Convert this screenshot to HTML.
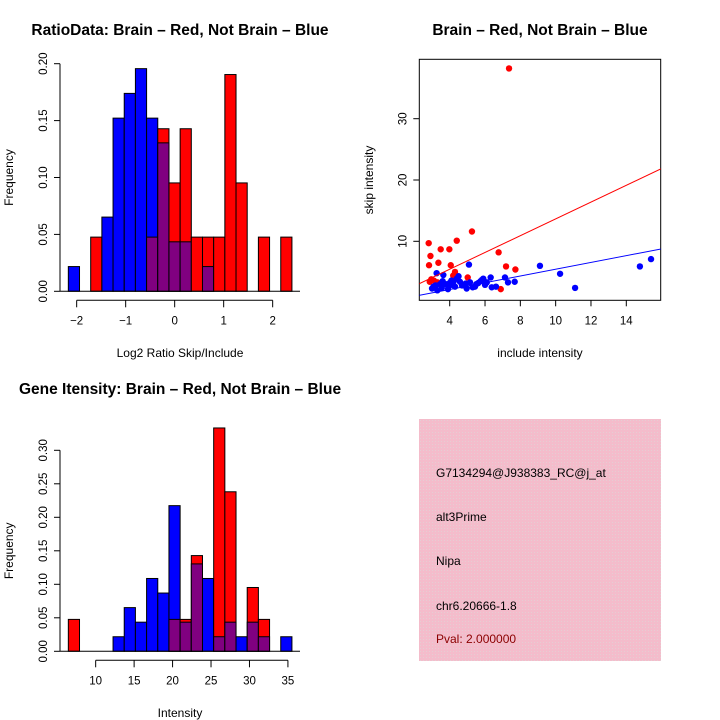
<!DOCTYPE html>
<html><head><meta charset="utf-8"><style>
body{margin:0;background:#fff}
svg{display:block;font-family:"Liberation Sans",sans-serif}
</style></head><body>
<svg id="svg" width="720" height="720" viewBox="0 0 720 720" xmlns="http://www.w3.org/2000/svg">
<g id="p1"></g>
<g id="p2"></g>
<g id="p3"></g>
<g id="p4">
<defs><pattern id="hatch" width="3" height="3" patternUnits="userSpaceOnUse"><rect width="3" height="3" fill="#f4bccb"/><rect width="1" height="1" fill="#e6cdd3"/></pattern></defs>
<rect x="419" y="419" width="242" height="242" fill="url(#hatch)"/>
<text x="436" y="477" font-size="12">G7134294@J938383_RC@j_at</text>
<text x="436" y="521" font-size="12">alt3Prime</text>
<text x="436" y="565" font-size="12">Nipa</text>
<text x="436" y="610" font-size="12">chr6.20666-1.8</text>
<text x="436" y="643" font-size="12" fill="#8b0000">Pval: 2.000000</text>
</g>
</svg>
<script>
// ---- Histogram 1 data (counts per bin) ----
const h1Red = [0,0,1,0,0,0,0,1,3,2,3,1,1,1,4,2,0,1,0,1];
const h1Blue = [1,0,0,3,7,8,9,7,6,2,2,0,1,0,0,0,0,0,0,0];
const h1RedN = 21, h1BlueN = 46;
const h1XTicks = [-2,-1,0,1,2];
const h1YTicks = ["0.00","0.05","0.10","0.15","0.20"];
// ---- Histogram 2 data ----
const h2Red = [1,0,0,0,0,0,0,0,0,1,1,3,0,7,5,0,2,1,0,0];
const h2Blue = [0,0,0,0,1,3,2,5,4,10,2,6,5,1,2,1,2,1,0,1];
const h2RedN = 21, h2BlueN = 46;
const h2XTicks = [10,15,20,25,30,35];
const h2YTicks = ["0.00","0.05","0.10","0.15","0.20","0.25","0.30"];
// ---- Scatter data ----
const redX = [7.36,2.81,4.4,5.26,3.49,3.98,2.91,6.77,2.83,3.36,4.06,7.19,7.72,4.3,5.02,2.96,2.87,6.89,3.1,4.2,3.3];
const redY = [38.2,9.7,10.1,11.6,8.7,8.7,7.6,8.2,6.1,6.5,6.1,5.9,5.4,5.0,4.1,3.8,3.4,2.2,3.6,4.4,3.3];
const blueX = [5.09,9.11,10.25,11.1,14.77,15.4,7.68,7.13,7.3,3.26,3.64,4.5,6.32,5.83,3.08,3.3,3.9,4.0,4.3,4.77,4.96,5.43,5.62,6.0,6.38,6.62,4.58,3.45,3.79,4.21,5.15,3.0,3.2,3.6,4.1,4.4,4.9,5.3,5.9,6.1,4.7,3.95,5.75,4.15,3.55,5.5];
const blueY = [6.2,6.0,4.7,2.4,5.9,7.1,3.4,4.1,3.3,4.8,4.5,4.3,4.1,3.7,2.6,2.0,2.2,3.2,2.6,2.9,2.3,2.6,3.2,2.9,2.5,2.6,3.4,3.0,3.0,3.4,3.3,2.3,2.8,3.5,3.6,3.9,3.1,2.5,3.9,3.3,2.8,2.7,3.5,2.9,2.4,3.0];
const redFit = [-0.04,1.37];
const blueFit = [-0.07,0.552];
const scXTicks = [4,6,8,10,12,14];
const scYTicks = [10,20,30];

const NS="http://www.w3.org/2000/svg";
function mk(parent,tag,attrs){const e=document.createElementNS(NS,tag);for(const k in attrs)e.setAttribute(k,attrs[k]);parent.appendChild(e);return e;}

function hist(g,red,blue,rN,bN,x0px,binPx,y0,yPerUnit,xTicks,xTickPx,yTicks,yStep,axX,xlab,title,titleY,xlabY){
  for(let i=0;i<red.length;i++){
    const r=red[i]/rN,b=blue[i]/bN;
    const x=x0px+i*binPx;
    const top=Math.max(r,b),mn=Math.min(r,b);
    if(top>0){
      const bar=mk(g,'rect',{x:x,y:y0-top*yPerUnit,width:binPx,height:top*yPerUnit,fill:r>=b?'#ff0000':'#0000ff',stroke:'#000','stroke-width':1});
      
      
    }
    if(mn>0){
      const ov=mk(g,'rect',{x:x,y:y0-mn*yPerUnit,width:binPx,height:mn*yPerUnit,fill:'#800080',stroke:'#000','stroke-width':1});
      
      
    }
  }
  const base=mk(g,'line',{x1:60,x2:300,y1:y0,y2:y0,stroke:'#000'});
  
  
  const yTop=y0-(yTicks.length-1)*yStep*yPerUnit;
  mk(g,'line',{x1:axX,x2:axX,y1:y0,y2:yTop,stroke:'#000'});
  yTicks.forEach((t,i)=>{const y=y0-i*yStep*yPerUnit;mk(g,'line',{x1:axX-6,x2:axX,y1:y,y2:y,stroke:'#000'});
    const tx=mk(g,'text',{x:0,y:0,transform:`translate(${axX-13},${y}) rotate(-90)`,'text-anchor':'middle','font-size':11.5});tx.textContent=t;
    
    });
  const xa=y0+9;
  const xs=xTicks.map(xTickPx);
  mk(g,'line',{x1:xs[0],x2:xs[xs.length-1],y1:xa,y2:xa,stroke:'#000'});
  xTicks.forEach((t,i)=>{mk(g,'line',{x1:xs[i],x2:xs[i],y1:xa,y2:xa+7,stroke:'#000'});
    const tx=mk(g,'text',{x:xs[i],y:xa+24,'text-anchor':'middle','font-size':11.5});tx.textContent=t<0?'\u2212'+(-t):t;
    
    });
  const xl=mk(g,'text',{x:180,y:xlabY,'text-anchor':'middle','font-size':12});xl.textContent=xlab;
  
  
  const yl=mk(g,'text',{x:0,y:0,transform:`translate(13,${(y0+yTop)/2}) rotate(-90)`,'text-anchor':'middle','font-size':12});yl.textContent='Frequency';
  
  
  const tt=mk(g,'text',{x:180,y:titleY,'text-anchor':'middle','font-size':15.5,'font-weight':'bold'});tt.textContent=title;
  
  
}
const p1=document.getElementById('p1');
hist(p1,h1Red,h1Blue,h1RedN,h1BlueN,68.33,11.18,291.3,1138,h1XTicks,v=>76.67+(v+2)*49,h1YTicks,0.05,60,'Log2 Ratio Skip/Include','RatioData: Brain \u2013 Red, Not Brain \u2013 Blue',35,357);
const p3=document.getElementById('p3');
hist(p3,h2Red,h2Blue,h2RedN,h2BlueN,68.33,11.18,651.3,670,h2XTicks,v=>95.67+(v-10)*7.69,h2YTicks,0.05,60,'Intensity','Gene Itensity: Brain \u2013 Red, Not Brain \u2013 Blue',394,717);

const p2=document.getElementById('p2');
const L=419.3,R=660.7,T=59.3,B=300.3;
const sx=v=>449.7+(v-4)*17.66, sy=v=>241.3-(v-10)*6.13;
const box=mk(p2,'rect',{x:L,y:T,width:R-L,height:B-T,fill:'none',stroke:'#000'});


const cp=mk(p2,'clipPath',{id:'clip'});mk(cp,'rect',{x:L,y:T,width:R-L,height:B-T});
const inner=mk(p2,'g',{'clip-path':'url(#clip)'});
redX.forEach((x,i)=>{const c=mk(inner,'circle',{cx:sx(x),cy:sy(redY[i]),r:3.2,fill:'#ff0000'});
  
  });
blueX.forEach((x,i)=>{const c=mk(inner,'circle',{cx:sx(x),cy:sy(blueY[i]),r:3.2,fill:'#0000ff'});
  
  });
const xl0=2.2,xl1=16.1;
const rl=mk(inner,'line',{x1:sx(xl0),y1:sy(redFit[0]+redFit[1]*xl0),x2:sx(xl1),y2:sy(redFit[0]+redFit[1]*xl1),stroke:'#ff0000'});


const bl=mk(inner,'line',{x1:sx(xl0),y1:sy(blueFit[0]+blueFit[1]*xl0),x2:sx(xl1),y2:sy(blueFit[0]+blueFit[1]*xl1),stroke:'#0000ff'});


scXTicks.forEach(t=>{const x=sx(t);mk(p2,'line',{x1:x,x2:x,y1:B,y2:B+6,stroke:'#000'});
  const tx=mk(p2,'text',{x:x,y:B+24,'text-anchor':'middle','font-size':11.5});tx.textContent=t;
  
  });
scYTicks.forEach(t=>{const y=sy(t);mk(p2,'line',{x1:L-6,x2:L,y1:y,y2:y,stroke:'#000'});
  const tx=mk(p2,'text',{x:0,y:0,transform:`translate(${L-13},${y}) rotate(-90)`,'text-anchor':'middle','font-size':11.5});tx.textContent=t;
  
  });
const sxl=mk(p2,'text',{x:540,y:357,'text-anchor':'middle','font-size':12});sxl.textContent='include intensity';


const syl=mk(p2,'text',{x:0,y:0,transform:'translate(373,180) rotate(-90)','text-anchor':'middle','font-size':12});syl.textContent='skip intensity';


const st=mk(p2,'text',{x:540,y:35,'text-anchor':'middle','font-size':15.5,'font-weight':'bold'});st.textContent='Brain \u2013 Red, Not Brain \u2013 Blue';


</script>
</body></html>
